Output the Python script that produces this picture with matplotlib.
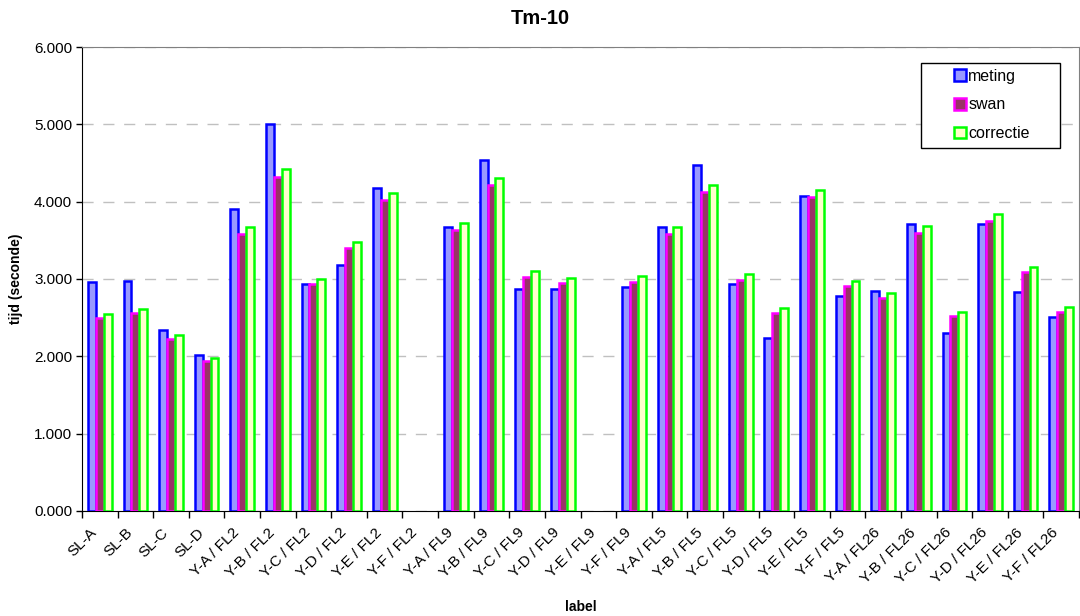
# tm10_bars.py
# bar chart of Tm-10 per location: meting vs swan vs correctie

import numpy as np
import matplotlib
matplotlib.use('Agg')
import matplotlib.pyplot as plt
import matplotlib.transforms as mtransforms
from matplotlib.patches import Rectangle
from matplotlib.ticker import FixedLocator, FuncFormatter

# categories
labels = ['SL-A', 'SL-B', 'SL-C', 'SL-D',
          'Y-A / FL2', 'Y-B / FL2', 'Y-C / FL2', 'Y-D / FL2', 'Y-E / FL2', 'Y-F / FL2',
          'Y-A / FL9', 'Y-B / FL9', 'Y-C / FL9', 'Y-D / FL9', 'Y-E / FL9', 'Y-F / FL9',
          'Y-A / FL5', 'Y-B / FL5', 'Y-C / FL5', 'Y-D / FL5', 'Y-E / FL5', 'Y-F / FL5',
          'Y-A / FL26', 'Y-B / FL26', 'Y-C / FL26', 'Y-D / FL26', 'Y-E / FL26', 'Y-F / FL26']

# Tm-10 in seconds, nan = no data
meting = [2.96, 2.98, 2.335, 2.02, 3.90, 5.00, 2.935, 3.175, 4.175, np.nan,
          3.67, 4.535, 2.875, 2.875, np.nan, 2.90,
          3.67, 4.475, 2.935, 2.24, 4.075, 2.775,
          2.84, 3.71, 2.305, 3.71, 2.835, 2.51]
swan = [2.49, 2.56, 2.23, 1.935, 3.585, 4.325, 2.93, 3.40, 4.025, np.nan,
        3.635, 4.21, 3.03, 2.945, np.nan, 2.965,
        3.585, 4.125, 2.99, 2.56, 4.06, 2.905,
        2.755, 3.60, 2.52, 3.745, 3.085, 2.575]
correctie = [2.55, 2.615, 2.275, 1.98, 3.67, 4.425, 3.00, 3.475, 4.115, np.nan,
             3.72, 4.31, 3.105, 3.015, np.nan, 3.035,
             3.67, 4.215, 3.07, 2.625, 4.15, 2.98,
             2.82, 3.69, 2.575, 3.84, 3.155, 2.64]

series = ['meting', 'swan', 'correctie']
yticks = [0, 1, 2, 3, 4, 5, 6]

plt.rcParams['font.family'] = ['Liberation Sans', 'DejaVu Sans']

fig = plt.figure(figsize=(10.8, 6.16), dpi=100)
ax = fig.add_axes([0.0759, 0.1705, 0.9232, 0.7532])

x = np.arange(len(labels))
w = 0.222
# (edge, fill) per series, excel style
styles = [('#0000ff', '#9999ff'), ('#ff00ff', '#993366'), ('#00ff00', '#ffffcc')]

for k, vals in enumerate([meting, swan, correctie]):
    ax.bar(x + (k - 1) * w, vals, w, color=styles[k][1], edgecolor=styles[k][0],
           linewidth=1.8, label=series[k], zorder=3)

ax.set_xlim(-0.5, len(labels) - 0.5)
ax.set_ylim(0, 6)
ax.set_yticks(yticks)
ax.yaxis.set_major_formatter(FuncFormatter(lambda v, p: '%.3f' % v))
ax.yaxis.grid(True, color='#c0c0c0', linestyle=(0, (8, 7)), linewidth=1, zorder=0)
ax.tick_params(axis='y', direction='out', length=4, width=1, pad=3, labelsize=11)

# labels at the category centres, tick marks on the boundaries
ax.set_xticks(x)
ax.set_xticklabels(labels, rotation=45, ha='right', va='center', rotation_mode='anchor')
ax.tick_params(axis='x', which='major', length=0, pad=14, labelsize=11)
ax.xaxis.set_minor_locator(FixedLocator(np.arange(len(labels) + 1) - 0.5))
ax.tick_params(axis='x', which='minor', direction='out', length=5, width=1)
shift = mtransforms.ScaledTranslation(-5 / 100, 0, fig.dpi_scale_trans)
for lab in ax.get_xticklabels():
    lab.set_transform(lab.get_transform() + shift)

for s in ['top', 'right']:
    ax.spines[s].set_color('#808080')
for s in ['left', 'bottom']:
    ax.spines[s].set_color('black')

ax.set_xlabel('label', fontsize=10, fontweight='bold', labelpad=10)
ax.set_ylabel('tijd (seconde)', fontsize=10, fontweight='bold', labelpad=8)
fig.text(0.5, 0.97, 'Tm-10', ha='center', va='center', fontsize=14.5, fontweight='bold')

# legend box drawn separately so the entries sit in the middle
ax.add_patch(Rectangle((0.8415, 0.782), 0.1395, 0.184, transform=ax.transAxes,
                       facecolor='white', edgecolor='black', linewidth=1, zorder=4))
leg = ax.legend(loc='upper left', bbox_to_anchor=(0.8746, 0.953), frameon=False,
                borderpad=0, borderaxespad=0, handlelength=0.75, handleheight=0.75,
                handletextpad=0.15, labelspacing=0.85, fontsize=11.5)
leg.set_zorder(5)

fig.savefig('out.png', dpi=100)
